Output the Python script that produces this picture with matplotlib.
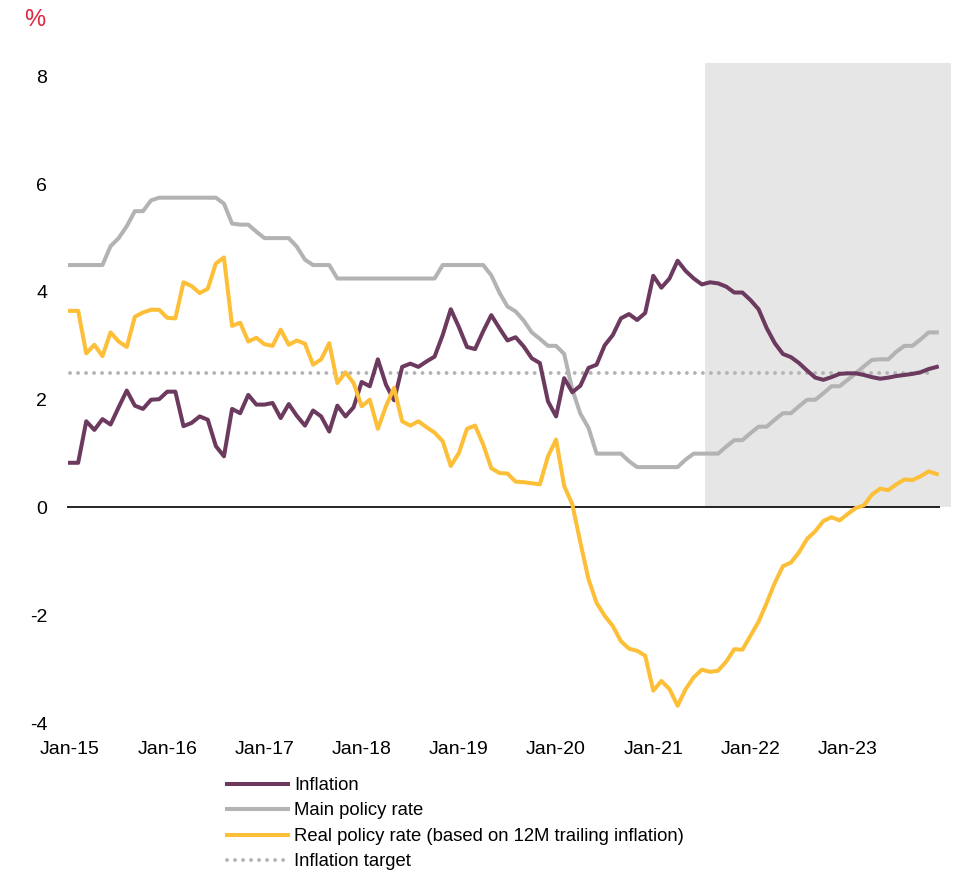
import numpy as np
from matplotlib import pyplot as plt

plt.rcParams['font.family'] = ['Liberation Sans', 'DejaVu Sans']

# monthly series, Jan-15 .. Dec-23 (%)
inflation = [
    0.83, 0.83, 1.60, 1.44, 1.64, 1.54, 1.86, 2.17, 1.89, 1.83, 2.00, 2.01,
    2.15, 2.15, 1.51, 1.57, 1.69, 1.63, 1.14, 0.95, 1.83, 1.75, 2.09, 1.91,
    1.91, 1.94, 1.66, 1.92, 1.70, 1.52, 1.80, 1.69, 1.41, 1.89, 1.69, 1.86,
    2.33, 2.25, 2.75, 2.28, 1.99, 2.61, 2.67, 2.61, 2.71, 2.80, 3.20, 3.68,
    3.35, 2.98, 2.94, 3.27, 3.57, 3.33, 3.10, 3.16, 2.99, 2.77, 2.68, 1.97,
    1.69, 2.40, 2.14, 2.26, 2.59, 2.65, 3.01, 3.20, 3.51, 3.59, 3.48, 3.61,
    4.30, 4.08, 4.25, 4.58, 4.39, 4.25, 4.14, 4.18, 4.16, 4.10, 3.99, 3.99,
    3.85, 3.68, 3.33, 3.05, 2.85, 2.79, 2.68, 2.54, 2.41, 2.37, 2.42, 2.48,
    2.49, 2.49, 2.46, 2.42, 2.39, 2.41, 2.44, 2.46, 2.48, 2.51, 2.57, 2.61,
]
policy_rate = [
    4.50, 4.50, 4.50, 4.50, 4.50, 4.85, 5.00, 5.22, 5.50, 5.50, 5.70, 5.75,
    5.75, 5.75, 5.75, 5.75, 5.75, 5.75, 5.75, 5.64, 5.27, 5.25, 5.25, 5.12,
    5.00, 5.00, 5.00, 5.00, 4.84, 4.60, 4.50, 4.50, 4.50, 4.25, 4.25, 4.25,
    4.25, 4.25, 4.25, 4.25, 4.25, 4.25, 4.25, 4.25, 4.25, 4.25, 4.50, 4.50,
    4.50, 4.50, 4.50, 4.50, 4.31, 3.99, 3.73, 3.64, 3.47, 3.25, 3.13, 3.00,
    3.00, 2.85, 2.19, 1.74, 1.48, 1.00, 1.00, 1.00, 1.00, 0.86, 0.75, 0.75,
    0.75, 0.75, 0.75, 0.75, 0.89, 1.00, 1.00, 1.00, 1.00, 1.13, 1.25, 1.25,
    1.38, 1.50, 1.50, 1.63, 1.75, 1.75, 1.88, 2.00, 2.00, 2.12, 2.25, 2.25,
    2.37, 2.49, 2.62, 2.74, 2.75, 2.75, 2.89, 3.00, 3.00, 3.12, 3.25, 3.25,
]
real_rate = [
    3.65, 3.65, 2.86, 3.02, 2.81, 3.25, 3.08, 2.98, 3.54, 3.62, 3.67, 3.67,
    3.52, 3.51, 4.18, 4.11, 3.98, 4.06, 4.53, 4.64, 3.37, 3.43, 3.08, 3.15,
    3.03, 3.00, 3.30, 3.02, 3.10, 3.04, 2.65, 2.75, 3.05, 2.31, 2.51, 2.31,
    1.88, 2.00, 1.46, 1.88, 2.22, 1.60, 1.52, 1.60, 1.49, 1.39, 1.23, 0.77,
    1.01, 1.46, 1.52, 1.17, 0.73, 0.64, 0.63, 0.48, 0.47, 0.45, 0.43, 0.95,
    1.26, 0.40, 0.06, -0.65, -1.33, -1.77, -2.01, -2.20, -2.48, -2.62, -2.66, -2.75,
    -3.40, -3.22, -3.37, -3.68, -3.37, -3.15, -3.01, -3.05, -3.03, -2.86, -2.63, -2.64,
    -2.38, -2.12, -1.77, -1.40, -1.09, -1.02, -0.83, -0.58, -0.44, -0.25, -0.18, -0.24,
    -0.12, -0.01, 0.04, 0.24, 0.35, 0.32, 0.43, 0.52, 0.51, 0.58, 0.67, 0.62,
]
inflation_target = 2.5
year_labels = ['Jan-15', 'Jan-16', 'Jan-17', 'Jan-18', 'Jan-19',
               'Jan-20', 'Jan-21', 'Jan-22', 'Jan-23']
forecast_start = 78.4   # shaded period starts mid-2021

months = np.arange(len(inflation))

fig = plt.figure(figsize=(9.6, 8.75), dpi=100)
ax = fig.add_axes([0.0696, 0.1737, 0.9096, 0.7543])

ax.fill_between([forecast_start, 108.8], 0, 8.25, color='#e6e6e6',
                linewidth=0, clip_on=False, zorder=0)
ax.plot([0, 106], [inflation_target] * 2, color='#b3b3b3', lw=2.8,
        linestyle=(0, (0.01, 2.05)), dash_capstyle='round',
        label='Inflation target', zorder=1)
ax.axhline(0, color='black', lw=1.2, zorder=1)

ax.plot(months, policy_rate, color='#b3b3b3', lw=2.9, zorder=2,
        label='Main policy rate')
ax.plot(months, inflation, color='#6b3a5e', lw=2.9, zorder=3,
        label='Inflation')
ax.plot(months, real_rate, color='#fcbf37', lw=2.9, zorder=4,
        label='Real policy rate (based on 12M trailing inflation)')

ax.set_xlim(-0.4, 107.4)
ax.set_ylim(-4, 8.25)
ax.set_yticks([-4, -2, 0, 2, 4, 6, 8])
ax.set_yticklabels(['-4', '-2', '0', '2', '4', '6', '8'])
ax.set_xticks(months[::12])
ax.set_xticklabels(year_labels)
ax.tick_params(axis='y', length=0, pad=14, labelsize=14)
ax.tick_params(axis='x', length=0, pad=13, labelsize=14)
for s in ax.spines.values():
    s.set_visible(False)

fig.text(0.036, 0.977, '%', color='#e0263f', fontsize=17, ha='center', va='center')

handles, labels = ax.get_legend_handles_labels()
order = [labels.index(n) for n in ['Inflation', 'Main policy rate',
                                   'Real policy rate (based on 12M trailing inflation)',
                                   'Inflation target']]
fig.legend([handles[i] for i in order], [labels[i] for i in order],
           loc='upper left', bbox_to_anchor=(227 / 960, 1 - 777 / 875),
           frameon=False, fontsize=13.3, handlelength=3.3, handletextpad=0.33,
           labelspacing=0.46, borderpad=0, borderaxespad=0)

plt.savefig('out.png', dpi=100)
